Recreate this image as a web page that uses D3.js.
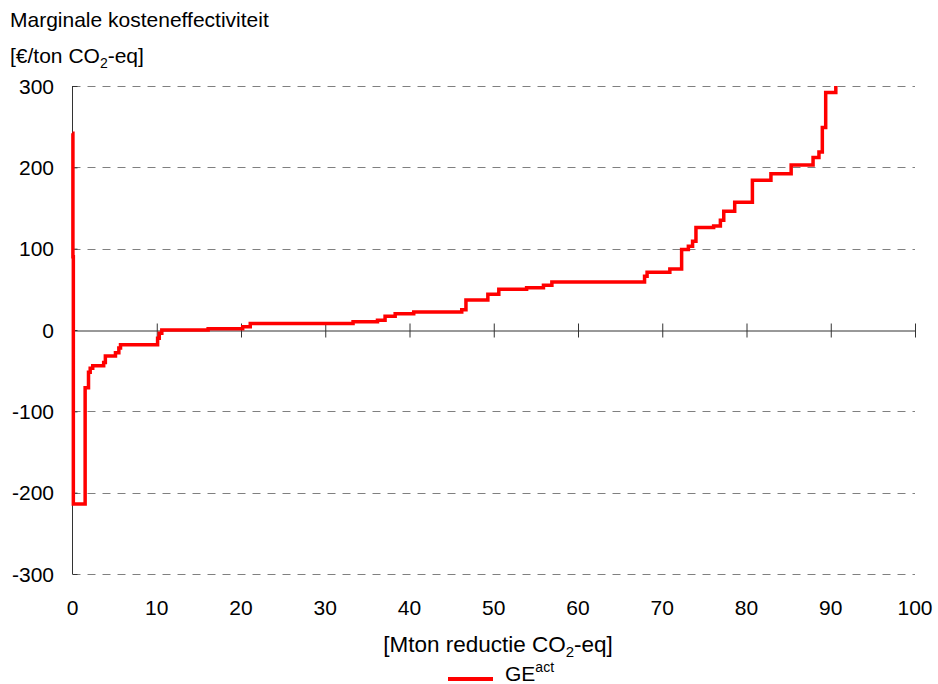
<!DOCTYPE html>
<html>
<head>
<meta charset="utf-8">
<script src="https://cdn.jsdelivr.net/npm/d3@7"></script>
<style>
  body { margin: 0; background: #fff; }
  svg { display: block; font-family: "Liberation Sans", Arial, sans-serif; }
</style>
</head>
<body>
<svg id="chart" width="938" height="684"></svg>
<script>
// Step start positions (Mton reduction) and marginal cost (€/ton) for each step
const stepX = [0, 0.05, 0.1, 1.5, 1.9, 2.1, 2.4, 3.7, 3.9, 5.1, 5.5, 5.7, 10.1, 10.3, 10.6,
  16.1, 20.2, 21.1, 33.3, 36.2, 37.1, 38.3, 40.5, 46.2, 46.7, 49.3, 50.6, 53.9, 55.9, 56.9,
  67.9, 68.2, 70.9, 72.3, 73.1, 73.6, 74.0, 76.1, 76.9, 77.3, 78.6, 80.7, 82.9, 85.3, 87.9,
  88.6, 89.0, 89.4];
const stepCost = [242, 90, -214, -71, -52, -47, -44, -40, -32, -28, -22, -18, -10, -4, 0,
  1.5, 4, 8, 10, 12, 17, 20, 22, 25, 37, 44, 50, 52, 55, 59,
  66, 71, 75, 99, 103, 109, 126, 128, 135, 146, 157, 184, 192, 203, 212,
  219, 249, 292];
const endX = 90.6;
const endCost = 300;

const xTicks = [0, 10, 20, 30, 40, 50, 60, 70, 80, 90, 100];
const yTicks = [-300, -200, -100, 0, 100, 200, 300];
const seriesName = "GE";
const seriesSup = "act";

(function () {
const svg = d3.select("#chart");
const pLeft = 72.5, pRight = 915, pTop = 86, pBottom = 574;
const fs = 21;

const x = d3.scaleLinear().domain([0, 100]).range([pLeft, pRight]);
const y = d3.scaleLinear().domain([-300, 300]).range([pBottom, pTop]);

// Gridlines (dashed) except at zero
svg.append("g").selectAll("line")
  .data(yTicks.filter(d => d !== 0))
  .join("line")
  .attr("x1", pLeft).attr("x2", pRight)
  .attr("y1", d => Math.round(y(d)) + 0.5).attr("y2", d => Math.round(y(d)) + 0.5)
  .attr("stroke", "#808080").attr("stroke-width", 1)
  .attr("stroke-dasharray", "8,7");

// Y axis
const yAxis = svg.append("g")
  .attr("transform", `translate(${pLeft},0)`)
  .call(d3.axisRight(y).tickValues(yTicks).tickSize(5).tickFormat(""));
yAxis.select(".domain").attr("d", `M0,${pTop}V${pBottom}`).attr("stroke", "#333");
yAxis.selectAll(".tick line").attr("stroke", "#333");

// Y labels
svg.append("g").selectAll("text")
  .data(yTicks)
  .join("text")
  .attr("x", 54).attr("y", d => y(d) + 7.5)
  .attr("text-anchor", "end")
  .attr("font-size", fs).attr("fill", "#000")
  .text(d => d);

// X axis at zero
const xAxis = svg.append("g")
  .attr("transform", `translate(0,${Math.round(y(0)) + 0.5})`)
  .call(d3.axisBottom(x).tickValues(xTicks).tickSize(0).tickFormat(""));
xAxis.select(".domain").attr("stroke", "#333");
xAxis.selectAll(".tick line").attr("y1", -7).attr("y2", 7).attr("stroke", "#333");

// X labels
svg.append("g").selectAll("text")
  .data(xTicks)
  .join("text")
  .attr("x", d => x(d)).attr("y", 615)
  .attr("text-anchor", "middle")
  .attr("font-size", fs).attr("fill", "#000")
  .text(d => d);

// Series line
const pts = stepX.map((v, i) => [v, stepCost[i]]);
pts.push([endX, endCost]);
const line = d3.line().x(d => x(d[0])).y(d => y(d[1])).curve(d3.curveStepAfter);
svg.append("path")
  .datum(pts)
  .attr("d", line)
  .attr("fill", "none")
  .attr("stroke", "#ff0000")
  .attr("stroke-width", 3.5)
  .attr("stroke-linejoin", "miter");

// Titles
svg.append("text").attr("x", 10).attr("y", 27).attr("font-size", fs)
  .text("Marginale kosteneffectiviteit");
const t2 = svg.append("text").attr("x", 10).attr("y", 63).attr("font-size", fs);
t2.append("tspan").text("[€/ton CO");
t2.append("tspan").attr("font-size", 14).attr("dy", 5).text("2");
t2.append("tspan").attr("dy", -5).text("-eq]");

const xt = svg.append("text").attr("x", 498).attr("y", 652).attr("font-size", 22.5)
  .attr("text-anchor", "middle");
xt.append("tspan").text("[Mton reductie CO");
xt.append("tspan").attr("font-size", 15).attr("dy", 5).text("2");
xt.append("tspan").attr("dy", -5).text("-eq]");

// Legend
svg.append("line").attr("x1", 448).attr("x2", 493).attr("y1", 679).attr("y2", 679)
  .attr("stroke", "#ff0000").attr("stroke-width", 4);
const lt = svg.append("text").attr("x", 505).attr("y", 681).attr("font-size", fs);
lt.append("tspan").text(seriesName);
lt.append("tspan").attr("font-size", 14).attr("dy", -9).text(seriesSup);
})();
</script>
</body>
</html>
